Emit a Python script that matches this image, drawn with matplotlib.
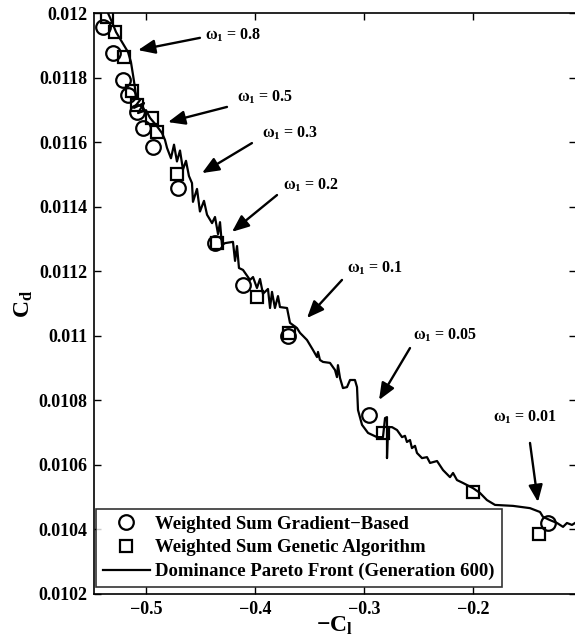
import numpy as np
import matplotlib
matplotlib.use("Agg")
import matplotlib.pyplot as plt
from matplotlib.ticker import MultipleLocator, FixedLocator, FuncFormatter

# 폰트 설정 (Times 계열 굵은 글씨)
plt.rcParams['font.family'] = ['Liberation Serif', 'DejaVu Serif']
plt.rcParams['font.weight'] = 'bold'
plt.rcParams['mathtext.fontset'] = 'custom'
plt.rcParams['mathtext.rm'] = 'Liberation Serif:bold'
plt.rcParams['mathtext.it'] = 'Liberation Serif:italic:bold'
plt.rcParams['mathtext.bf'] = 'Liberation Serif:bold'

# Weighted Sum Gradient-Based (circles)
grad_x = [-0.5394, -0.5303, -0.5211, -0.5165, -0.5083, -0.5028, -0.4936,
          -0.4706, -0.4367, -0.4110, -0.3697, -0.2954, -0.1312]
grad_y = [0.011957, 0.011876, 0.011792, 0.011746, 0.011693, 0.011644, 0.011585,
          0.011458, 0.011287, 0.011157, 0.011000, 0.010755, 0.010420]

# Weighted Sum Genetic Algorithm (squares)
ga_x = [-0.5358, -0.5284, -0.5202, -0.5128, -0.5083, -0.4945, -0.4899,
        -0.4716, -0.4349, -0.3982, -0.3688, -0.2826, -0.2000, -0.1394]
ga_y = [0.011988, 0.011941, 0.011864, 0.011758, 0.011715, 0.011675, 0.011631,
        0.011501, 0.011287, 0.011120, 0.011009, 0.010699, 0.010516, 0.010386]

# Dominance Pareto Front (Generation 600)
front_x = [-0.5349, -0.5312, -0.5275, -0.5220, -0.5165, -0.5138, -0.5119, -0.5101,
           -0.5092, -0.5055, -0.5110, -0.5018, -0.5073, -0.5000, -0.4963, -0.4908,
           -0.4853, -0.4826, -0.4807, -0.4771, -0.4743, -0.4716, -0.4688, -0.4661,
           -0.4633, -0.4606, -0.4578, -0.4569, -0.4532, -0.4505, -0.4468, -0.4440,
           -0.4394, -0.4367, -0.4339, -0.4321, -0.4303, -0.4275, -0.4202, -0.4183,
           -0.4165, -0.4147, -0.4110, -0.4046, -0.4018, -0.3982, -0.3954, -0.3927,
           -0.3881, -0.3862, -0.3844, -0.3817, -0.3789, -0.3771, -0.3706, -0.3679,
           -0.3615, -0.3587, -0.3523, -0.3468, -0.3431, -0.3422, -0.3404, -0.3376,
           -0.3312, -0.3266, -0.3248, -0.3239, -0.3220, -0.3193, -0.3156, -0.3128,
           -0.3083, -0.3064, -0.3055, -0.3018, -0.2963, -0.2881, -0.2826, -0.2807,
           -0.2789, -0.2789, -0.2780, -0.2743, -0.2697, -0.2651, -0.2624, -0.2606,
           -0.2578, -0.2560, -0.2532, -0.2514, -0.2468, -0.2422, -0.2394, -0.2330,
           -0.2275, -0.2211, -0.2183, -0.2147, -0.2092, -0.2000, -0.1936, -0.1872,
           -0.1798, -0.1633, -0.1477, -0.1385, -0.1358, -0.1294, -0.1229, -0.1174,
           -0.1138, -0.1092, -0.1064]
front_y = [0.012000, 0.011972, 0.011941, 0.011910, 0.011879, 0.011848, 0.011808, 0.011768,
           0.011743, 0.011730, 0.011706, 0.011721, 0.011690, 0.011699, 0.011675, 0.011653,
           0.011628, 0.011607, 0.011582, 0.011550, 0.011592, 0.011540, 0.011574, 0.011515,
           0.011542, 0.011495, 0.011473, 0.011415, 0.011455, 0.011385, 0.011418, 0.011375,
           0.011349, 0.011368, 0.011315, 0.011352, 0.011281, 0.011287, 0.011291, 0.011232,
           0.011278, 0.011210, 0.011204, 0.011173, 0.011182, 0.011148, 0.011176, 0.011130,
           0.011145, 0.011086, 0.011136, 0.011086, 0.011123, 0.011089, 0.011086, 0.011040,
           0.011024, 0.011009, 0.010987, 0.010956, 0.010934, 0.010950, 0.010925, 0.010919,
           0.010916, 0.010894, 0.010872, 0.010909, 0.010869, 0.010838, 0.010841, 0.010863,
           0.010863, 0.010841, 0.010770, 0.010724, 0.010699, 0.010686, 0.010686, 0.010745,
           0.010748, 0.010621, 0.010717, 0.010717, 0.010708, 0.010686, 0.010690, 0.010671,
           0.010677, 0.010652, 0.010659, 0.010637, 0.010621, 0.010624, 0.010606, 0.010612,
           0.010584, 0.010562, 0.010575, 0.010553, 0.010544, 0.010528, 0.010513, 0.010491,
           0.010476, 0.010473, 0.010466, 0.010454, 0.010439, 0.010429, 0.010420, 0.010408,
           0.010420, 0.010414, 0.010420]

# 가중치 주석 (텍스트 위치, 화살표 시작/끝)
omega_vals = ['0.8', '0.5', '0.3', '0.2', '0.1', '0.05', '0.01']
label_x = [-0.4459, -0.4165, -0.3936, -0.3743, -0.3156, -0.2550, -0.1817]
label_y = [0.011932, 0.011740, 0.011628, 0.011467, 0.011210, 0.011002, 0.010748]
tail_x = [-0.4505, -0.4257, -0.4028, -0.3798, -0.3202, -0.2578, -0.1477]
tail_y = [0.011923, 0.011709, 0.011597, 0.011436, 0.011173, 0.010962, 0.010668]
head_x = [-0.5073, -0.4798, -0.4486, -0.4211, -0.3523, -0.2862, -0.1404]
head_y = [0.011885, 0.011662, 0.011504, 0.011322, 0.011055, 0.010801, 0.010485]

x_ticks = [-0.5, -0.4, -0.3, -0.2]

fig = plt.figure(figsize=(5.75, 6.37), dpi=100)
ax = fig.add_axes([94 / 575, 1 - 594 / 637, 482 / 575, 581 / 637])

h_grad, = ax.plot(grad_x, grad_y, 'o', ms=10.5, mfc='none', mec='k', mew=1.6,
                  label='Weighted Sum Gradient\u2212Based')
h_ga, = ax.plot(ga_x, ga_y, 's', ms=9, mfc='none', mec='k', mew=1.6,
                label='Weighted Sum Genetic Algorithm')
h_front, = ax.plot(front_x, front_y, '-', color='k', lw=1.6,
                   label='Dominance Pareto Front (Generation 600)')

for i in range(len(omega_vals)):
    ax.annotate('', xy=(head_x[i], head_y[i]), xytext=(tail_x[i], tail_y[i]),
                arrowprops=dict(arrowstyle='-|>,head_length=0.6,head_width=0.25',
                                color='k', lw=1.7, mutation_scale=17,
                                shrinkA=0, shrinkB=0))
    ax.text(label_x[i], label_y[i], r'$\mathrm{\omega_1}$ = ' + omega_vals[i],
            fontsize=11.5, fontweight='bold', ha='left', va='center')

ax.set_xlim(-0.5477, -0.1055)
ax.set_ylim(0.0102, 0.012)
ax.xaxis.set_major_locator(FixedLocator(x_ticks))
ax.xaxis.set_major_formatter(FuncFormatter(lambda v, p: ('%g' % v).replace('-', '\u2212')))
ax.yaxis.set_major_locator(MultipleLocator(0.0002))
ax.yaxis.set_major_formatter(FuncFormatter(lambda v, p: '%g' % v))
ax.tick_params(direction='in', top=True, right=True, length=5, width=1,
               labelsize=13, pad=5)
for lab in ax.get_xticklabels() + ax.get_yticklabels():
    lab.set_fontweight('bold')
for sp in ax.spines.values():
    sp.set_linewidth(1.2)

ax.set_xlabel(r'$\mathbf{-C_l}$', fontsize=17, labelpad=-2)
ax.set_ylabel(r'$\mathbf{C_d}$', fontsize=17, labelpad=2)

leg = ax.legend(handles=[h_grad, h_ga, h_front], loc='lower left',
                bbox_to_anchor=(0.005, 0.012), fontsize=13.5, frameon=True,
                fancybox=False, edgecolor='k', borderpad=0.35, labelspacing=0.36,
                handlelength=2.5, handletextpad=0.3, borderaxespad=0)
leg.get_frame().set_linewidth(1.2)
for t in leg.get_texts():
    t.set_fontweight('bold')

fig.savefig('out.png', dpi=100)
